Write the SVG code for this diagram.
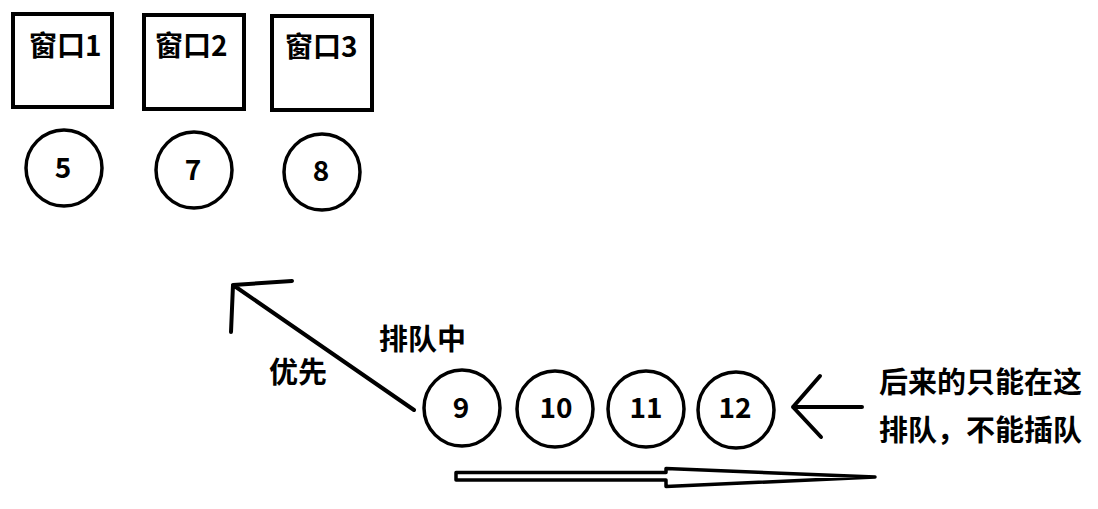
<svg xmlns="http://www.w3.org/2000/svg" width="1098" height="509" viewBox="0 0 1098 509">
<style>
.box{fill:#fff;stroke:#000;stroke-width:4}
.c{fill:#fff;stroke:#000;stroke-width:3.5}
.t{font-family:"Noto Sans CJK SC","Microsoft YaHei",sans-serif;font-weight:bold;font-size:29px;fill:#000}
.w{font-family:"Noto Sans CJK SC","Microsoft YaHei",sans-serif;font-weight:bold;font-size:28px;fill:#000}
.n{font-family:"Noto Sans CJK SC","Microsoft YaHei",sans-serif;font-weight:bold;font-size:28px;fill:#000;text-anchor:middle}
.ln{fill:none;stroke:#000;stroke-width:4;stroke-linecap:round;stroke-linejoin:round}
</style>
<rect width="1098" height="509" fill="#fff"/>
<g id="window1"><rect class="box" x="13" y="14" width="99" height="93"/><text class="w" x="29" y="56">窗口1</text></g>
<g id="window2"><rect class="box" x="144" y="15" width="100" height="94"/><text class="w" x="155" y="56">窗口2</text></g>
<g id="window3"><rect class="box" x="272" y="16" width="100" height="94"/><text class="w" x="285" y="57">窗口3</text></g>
<g id="c5"><circle class="c" cx="64" cy="168" r="38"/><text class="n" x="63" y="178">5</text></g>
<g id="c7"><circle class="c" cx="194" cy="170" r="38"/><text class="n" x="193" y="180">7</text></g>
<g id="c8"><circle class="c" cx="322" cy="172" r="38"/><text class="n" x="321" y="181">8</text></g>
<g id="c9"><circle class="c" cx="462" cy="408" r="38"/><text class="n" x="461" y="418">9</text></g>
<g id="c10"><circle class="c" cx="555" cy="409" r="38"/><text class="n" x="556" y="418">10</text></g>
<g id="c11"><circle class="c" cx="646" cy="409" r="38"/><text class="n" x="646" y="418">11</text></g>
<g id="c12"><circle class="c" cx="736" cy="410" r="38"/><text class="n" x="735" y="418">12</text></g>
<g id="labels">
<text class="t" x="379" y="350">排队中</text>
<text class="t" x="269" y="383">优先</text>
<text class="t" x="879" y="393">后来的只能在这</text>
<text class="t" x="879" y="441">排队，不能插队</text>
</g>
<g id="connectors">
<path class="ln" d="M414,410 L233,285 M233,285 L292,281 M233,285 L231,332"/>
<path class="ln" d="M862,407 L793,407 M820,376 L793,407 L821,437"/>
<path fill="#fff" stroke="#000" stroke-width="3.5" stroke-linejoin="round" d="M456,472.5 L666,472.5 L666,468.5 L875,477 L666,486.5 L666,480 L456,480 Z"/>
</g>
</svg>
